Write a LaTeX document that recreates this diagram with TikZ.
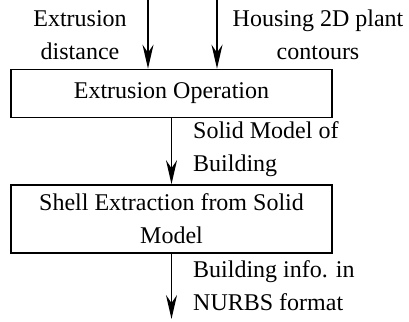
\documentclass[tikz,border=0pt]{standalone}
\usepackage{fontspec}
\setmainfont{Liberation Serif}
\usetikzlibrary{positioning}
\usetikzlibrary{arrows.meta}
\begin{document}
\begin{tikzpicture}[x=1pt, y=-1pt,
                        every node/.style={font=\fontsize{24}{33}\selectfont, inner sep=0pt},
                        box/.style={draw, line width=1.7pt, minimum width=321pt, align=center},
                        lbl/.style={align=center},
                        flow/.style={draw, line width=1.7pt, -{Stealth[length=24pt, width=11pt, inset=8pt]}}]
            \useasboundingbox (0,0) rectangle (409,321);

            \node[box, minimum height=48pt] (extr) at (171.5,93.5) {Extrusion Operation};
            \node[box, minimum height=68pt] (shell) at (171.5,219) {Shell Extraction from Solid\\Model};

            \node[lbl] (dist) at (80,35) {Extrusion\\distance};
            \node[lbl] (plant) at (318,35) {Housing 2D plant\\contours};
            \node[lbl, align=left, anchor=west] (solid) at (193,149) {Solid Model of\\Building};
            \node[lbl, align=left, anchor=west] (nurbs) at (193,286) {Building info. in\\NURBS format};

            \coordinate (distin) at (148,0);
            \coordinate (plantin) at (217,0);
            \coordinate (out) at (171.5,319);

            \draw[flow] (distin) -- (distin |- extr.north);
            \draw[flow] (plantin) -- (plantin |- extr.north);
            \draw[flow] (extr) -- (shell);
            \draw[flow] (shell) -- (out);
        \end{tikzpicture}
\end{document}
